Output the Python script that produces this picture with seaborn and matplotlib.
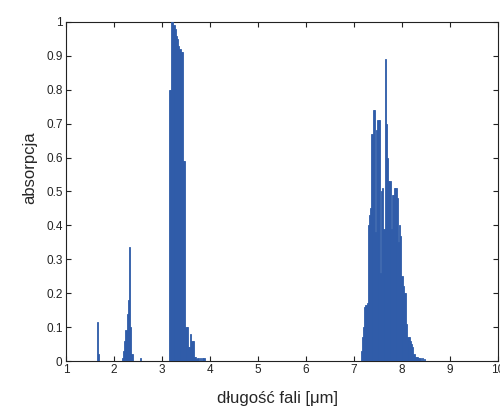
import numpy as np
import pandas as pd
import matplotlib
matplotlib.use("Agg")
import matplotlib.pyplot as plt
import seaborn as sns

####Spectrum data (0.025 um steps)#############################################
wl_nir = [1.64, 1.67]
ab_nir = [0.115, 0.02]

wl_band2 = [2.175, 2.200, 2.225, 2.250, 2.275, 2.300, 2.325, 2.350, 2.375, 2.550]
ab_band2 = [0.01, 0.03, 0.06, 0.09, 0.14, 0.18, 0.335, 0.10, 0.02, 0.01]

wl_band3 = [3.150, 3.175, 3.200, 3.225, 3.250, 3.275, 3.300, 3.325, 3.350,
            3.375, 3.400, 3.425, 3.450, 3.475, 3.500, 3.525, 3.550, 3.575,
            3.600, 3.625, 3.650, 3.675, 3.700, 3.725, 3.750, 3.800, 3.850,
            3.875]
ab_band3 = [0.80, 0.80, 1.00, 1.00, 0.99, 0.98, 0.96, 0.95, 0.93,
            0.92, 0.91, 0.91, 0.59, 0.59, 0.10, 0.10, 0.04, 0.04,
            0.08, 0.06, 0.06, 0.013, 0.013, 0.005, 0.01, 0.01, 0.01,
            0.01]

wl_band4 = [7.150, 7.175, 7.200, 7.225, 7.250, 7.275, 7.300, 7.325, 7.350,
            7.375, 7.400, 7.425, 7.450, 7.475, 7.500, 7.525, 7.550, 7.575,
            7.600, 7.625, 7.650, 7.675, 7.700, 7.725, 7.750, 7.775, 7.800,
            7.825, 7.850, 7.875, 7.900, 7.925, 7.950, 7.975, 8.000, 8.025,
            8.050, 8.075, 8.100, 8.125, 8.150, 8.175, 8.200, 8.225, 8.250,
            8.275, 8.300, 8.325, 8.350, 8.375, 8.425, 8.475]
ab_band4 = [0.03, 0.07, 0.10, 0.16, 0.165, 0.17, 0.40, 0.43, 0.45,
            0.67, 0.74, 0.74, 0.38, 0.68, 0.71, 0.71, 0.26, 0.50,
            0.51, 0.39, 0.89, 0.70, 0.60, 0.53, 0.53, 0.39, 0.49,
            0.49, 0.51, 0.51, 0.48, 0.35, 0.40, 0.37, 0.25, 0.22,
            0.20, 0.20, 0.11, 0.07, 0.07, 0.06, 0.05, 0.04, 0.02,
            0.013, 0.013, 0.013, 0.01, 0.008, 0.008, 0.005]

x_ticks = [1, 2, 3, 4, 5, 6, 7, 8, 9, 10]
y_ticks = [0, 0.1, 0.2, 0.3, 0.4, 0.5, 0.6, 0.7, 0.8, 0.9, 1]
y_ticklabels = ["0", "0.1", "0.2", "0.3", "0.4", "0.5", "0.6", "0.7", "0.8", "0.9", "1"]

df = pd.DataFrame({
    "wl": wl_nir + wl_band2 + wl_band3 + wl_band4,
    "ab": ab_nir + ab_band2 + ab_band3 + ab_band4,
})

####Style######################################################################
sns.set_style("ticks")
plt.rcParams['font.family'] = ['Liberation Sans', 'DejaVu Sans']
plt.rcParams['xtick.direction'] = 'in'
plt.rcParams['ytick.direction'] = 'in'
plt.rcParams['xtick.top'] = True
plt.rcParams['ytick.right'] = True

bar_color = "#2f5ca9"

fig = plt.figure(figsize=(5.0, 4.07), dpi=100)
ax = fig.add_axes([0.132, 0.113, 0.864, 0.833])

# bins centred on the 0.025 um grid, spectrum covers 1-9 um
bin_edges = list(np.linspace(0.9875, 9.0125, 322))
sns.histplot(data=df, x="wl", weights="ab", bins=bin_edges, ax=ax,
             color=bar_color, alpha=1.0, edgecolor=bar_color, linewidth=0.6)
# bars (and the zero line they make) sit on top of the axis frame
for p in ax.patches:
    p.set_zorder(3)

ax.set_xlim(1, 10)
ax.set_ylim(0, 1)
ax.set_xticks(x_ticks)
ax.set_yticks(y_ticks)
ax.set_yticklabels(y_ticklabels)
ax.tick_params(labelsize=8.5, length=3.5, width=0.8, pad=2.5, colors="#222222")
for sp in ax.spines.values():
    sp.set_linewidth(0.8)
    sp.set_color("#222222")

ax.set_xlabel("długość fali [μm]", fontsize=12)
ax.set_ylabel("absorpcja", fontsize=12)
ax.xaxis.set_label_coords(0.49, -0.088)
ax.yaxis.set_label_coords(-0.067, 0.57)

fig.savefig("out.png", dpi=100)
